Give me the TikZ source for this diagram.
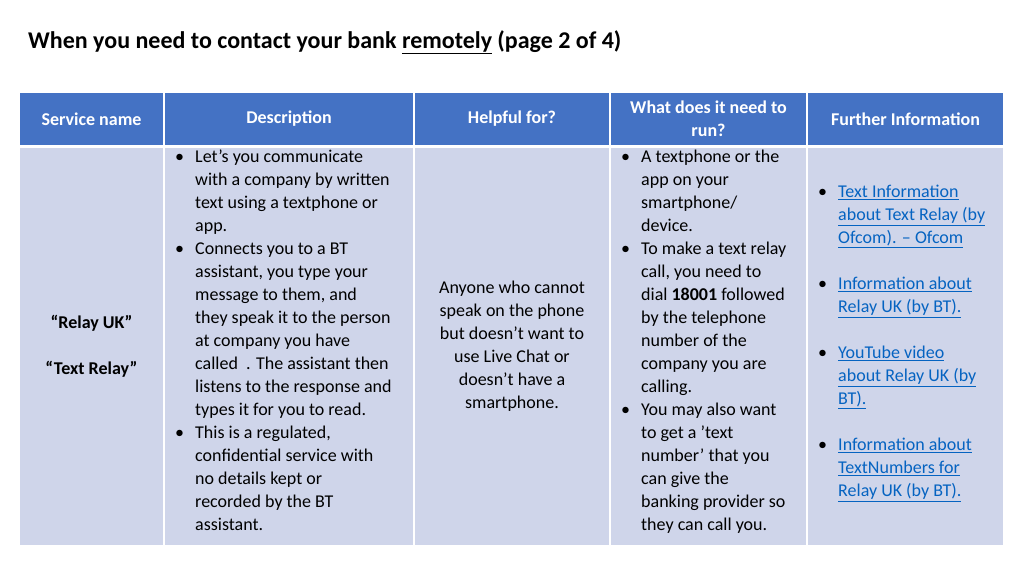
\documentclass[tikz,border=0pt]{standalone}
\usepackage{fontspec}
\setmainfont{Carlito}
\usetikzlibrary{positioning}
\definecolor{headblue}{HTML}{4472C4}
\definecolor{bodyblue}{HTML}{CFD5EA}
\definecolor{linkblue}{HTML}{0563C1}
\newcommand{\lnk}[1]{{\color{linkblue}\underline{#1}}}
\newcommand{\bul}{\makebox[21pt][l]{\hspace{1pt}•}}
\newcommand{\ind}{\hspace*{21pt}}
\begin{document}
\begin{tikzpicture}[x=1pt,y=-1pt,
  every node/.style={font=\fontsize{18}{23}\selectfont,inner sep=0pt},
  headtext/.style={text=white,font=\fontsize{18}{23}\selectfont\bfseries,align=center},
  celltext/.style={anchor=north west,align=left}]
\useasboundingbox (0,0) rectangle (1024,576);
\node[anchor=west,font=\fontsize{24}{28}\selectfont\bfseries] (title) at (28,42) {When you need to contact your bank \underline{remotely} (page 2 of 4)};
% header row
\foreach \xa/\xb/\txt [count=\i] in {20/163/Service name,165/413/Description,415/609/Helpful for?,611/806/{What does it need to\\run?},808/1003/Further Information}{
  \fill[headblue] (\xa,93) rectangle (\xb,145);
  \fill[bodyblue] (\xa,148) rectangle (\xb,545);
  \node[headtext] (head\i) at ({(\xa+\xb)/2},119) {\txt};
}
% body cells
\node[font=\fontsize{18}{23}\selectfont\bfseries,align=center] (name) at (91.5,346) {“Relay UK”\\[23pt]“Text Relay”};
\node[celltext] (desc) at (174,150) {\bul Let’s you communicate\\\ind with a company by written\\\ind text using a textphone or\\\ind app.\\
\bul Connects you to a BT\\\ind assistant, you type your\\\ind message to them, and\\\ind they speak it to the person\\\ind at company you have\\\ind called\ \ . The assistant then\\\ind listens to the response and\\\ind types it for you to read.\\
\bul This is a regulated,\\\ind confidential service with\\\ind no details kept or\\\ind recorded by the BT\\\ind assistant.};
\node[align=center] (help) at (512,346) {Anyone who cannot\\speak on the phone\\but doesn’t want to\\use Live Chat or\\doesn’t have a\\smartphone.};
\node[celltext] (needs) at (620,150) {\bul A textphone or the\\\ind app on your\\\ind smartphone/\\\ind device.\\
\bul To make a text relay\\\ind call, you need to\\\ind dial \textbf{18001} followed\\\ind by the telephone\\\ind number of the\\\ind company you are\\\ind calling.\\
\bul You may also want\\\ind to get a 'text\\\ind number’ that you\\\ind can give the\\\ind banking provider so\\\ind they can call you.};
\node[celltext] (info) at (817,185) {\bul\lnk{Text Information}\\\ind\lnk{about Text Relay (by}\\\ind\lnk{Ofcom). – Ofcom}\\[23pt]
\bul\lnk{Information about}\\\ind\lnk{Relay UK (by BT).}\\[23pt]
\bul\lnk{YouTube video}\\\ind\lnk{about Relay UK (by}\\\ind\lnk{BT).}\\[23pt]
\bul\lnk{Information about}\\\ind\lnk{TextNumbers for}\\\ind\lnk{Relay UK (by BT).}};
\end{tikzpicture}
\end{document}
